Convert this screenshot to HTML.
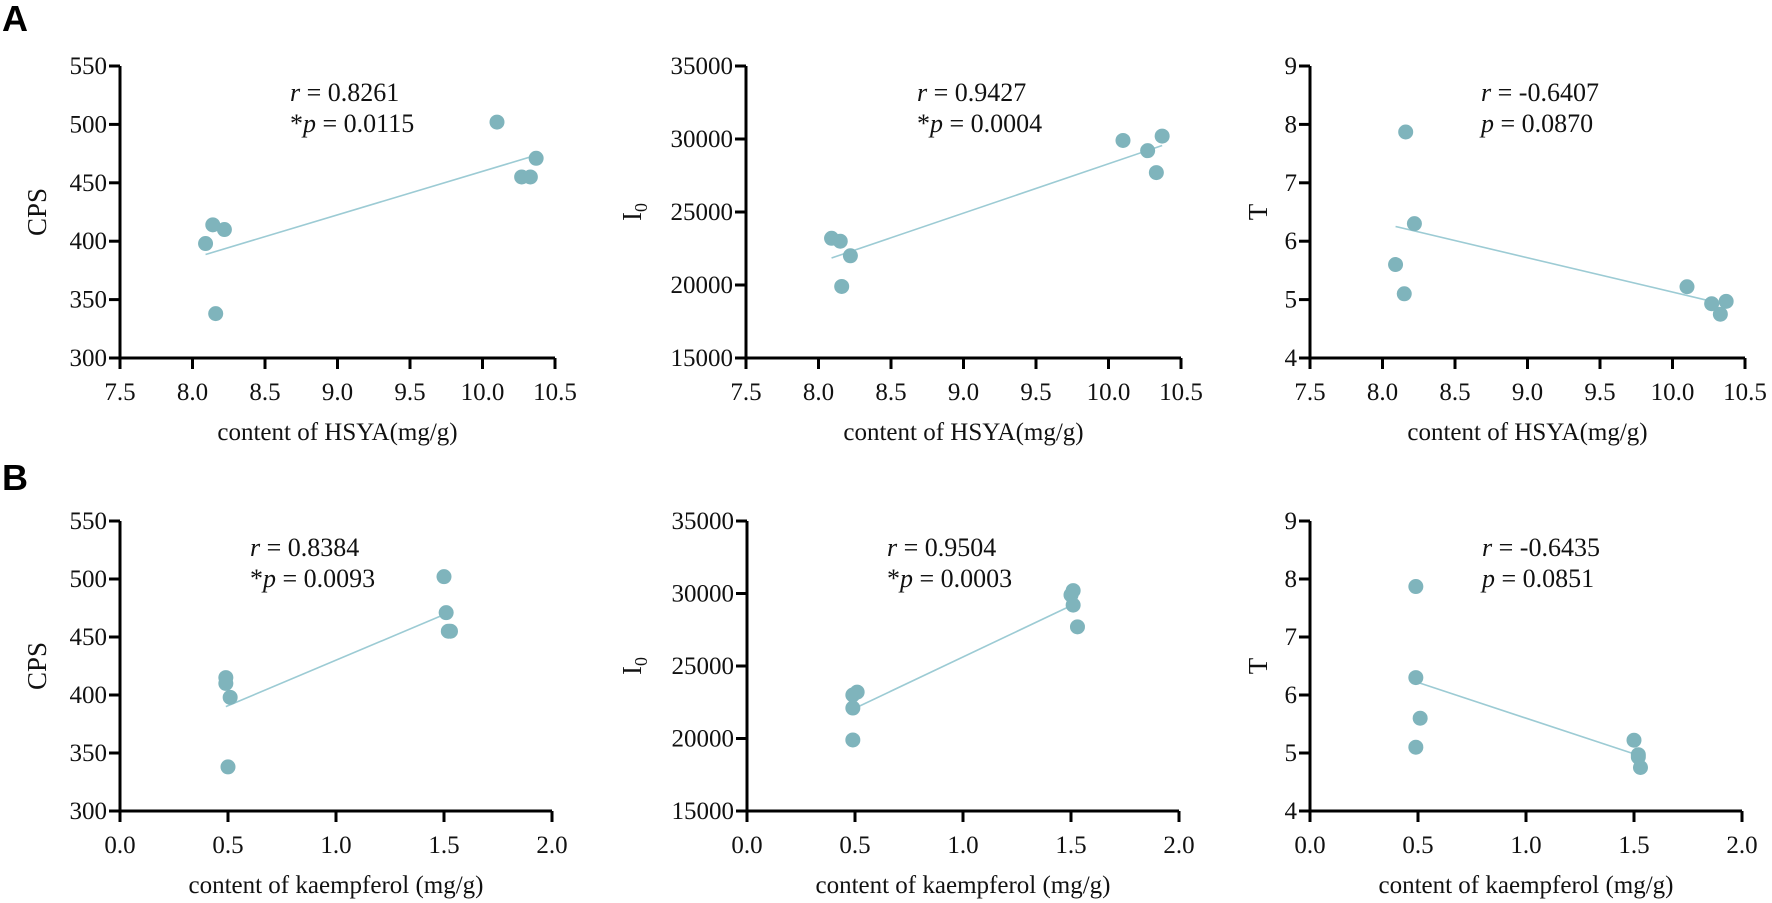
<!DOCTYPE html>
<html><head><meta charset="utf-8">
<style>
html,body{margin:0;padding:0;background:#fff;}
svg{display:block;}
svg text{font-family:"Liberation Serif","DejaVu Serif",serif;}
svg text.sans{font-family:"Liberation Sans","DejaVu Sans",sans-serif;}
</style></head>
<body>
<svg id="fig" width="1772" height="903" viewBox="0 0 1772 903" xmlns="http://www.w3.org/2000/svg">
<text class="sans" x="2" y="31" font-weight="bold" font-size="36">A</text>
<text class="sans" x="2" y="490" font-weight="bold" font-size="36">B</text>
</svg>
<script>
// ---- data ----
const hsyaX = [8.09, 8.14, 8.16, 8.22, 10.10, 10.27, 10.33, 10.37];
const hsyaCPS = [398, 414, 338, 410, 502, 455, 455, 471];
const hsyaI0X = [8.09, 8.15, 8.22, 8.16, 10.10, 10.27, 10.33, 10.37];
const hsyaI0 = [23200, 23000, 22000, 19900, 29900, 29200, 27700, 30200];
const hsyaTX = [8.09, 8.16, 8.22, 8.15, 10.10, 10.27, 10.33, 10.37];
const hsyaT = [5.6, 7.87, 6.3, 5.1, 5.22, 4.93, 4.75, 4.97];
const kaeCPSX = [0.49, 0.49, 0.51, 0.50, 1.50, 1.51, 1.52, 1.53];
const kaeCPS = [415, 410, 398, 338, 502, 471, 455, 455];
const kaeI0X = [0.49, 0.51, 0.49, 0.49, 1.50, 1.51, 1.51, 1.53];
const kaeI0 = [23000, 23200, 22100, 19900, 29900, 30200, 29200, 27700];
const kaeTX = [0.49, 0.49, 0.51, 0.49, 1.50, 1.52, 1.52, 1.53];
const kaeT = [7.87, 6.3, 5.6, 5.1, 5.22, 4.97, 4.93, 4.75];
const hsyaTicks = ["7.5","8.0","8.5","9.0","9.5","10.0","10.5"];
const kaeTicks = ["0.0","0.5","1.0","1.5","2.0"];
const cpsTicks = ["300","350","400","450","500","550"];
const i0Ticks = ["15000","20000","25000","30000","35000"];
const tTicks = ["4","5","6","7","8","9"];
const stats = [["0.8261","*","0.0115"],["0.9427","*","0.0004"],["-0.6407","","0.0870"],
               ["0.8384","*","0.0093"],["0.9504","*","0.0003"],["-0.6435","","0.0851"]];

const NS="http://www.w3.org/2000/svg";
const svg=document.getElementById('fig');
const FONT='"Liberation Serif","DejaVu Serif",serif';
function el(tag,attrs,parent){const e=document.createElementNS(NS,tag);for(const k in attrs)e.setAttribute(k,attrs[k]);if(tag==='text')e.setAttribute('font-family',FONT);(parent||svg).appendChild(e);return e;}
function ts(parent,txt,attrs){const t=document.createElementNS(NS,'tspan');for(const k in (attrs||{}))t.setAttribute(k,attrs[k]);t.textContent=txt;parent.appendChild(t);return t;}

const panels=[
 {x0:120,x1:555,y0:66,y1:358,xt:hsyaTicks,yt:cpsTicks,xs:hsyaX,ys:hsyaCPS,yl:"CPS",xl:"content of HSYA(mg/g)",ylx:37,ann:170,st:stats[0]},
 {x0:746,x1:1181,y0:66,y1:358,xt:hsyaTicks,yt:i0Ticks,xs:hsyaI0X,ys:hsyaI0,yl:"I0",xl:"content of HSYA(mg/g)",ylx:632,ann:171,st:stats[1]},
 {x0:1310,x1:1745,y0:66,y1:358,xt:hsyaTicks,yt:tTicks,xs:hsyaTX,ys:hsyaT,yl:"T",xl:"content of HSYA(mg/g)",ylx:1258,ann:171,st:stats[2]},
 {x0:120,x1:552,y0:521,y1:811,xt:kaeTicks,yt:cpsTicks,xs:kaeCPSX,ys:kaeCPS,yl:"CPS",xl:"content of kaempferol (mg/g)",ylx:37,ann:130,st:stats[3]},
 {x0:747,x1:1179,y0:521,y1:811,xt:kaeTicks,yt:i0Ticks,xs:kaeI0X,ys:kaeI0,yl:"I0",xl:"content of kaempferol (mg/g)",ylx:632,ann:140,st:stats[4]},
 {x0:1310,x1:1742,y0:521,y1:811,xt:kaeTicks,yt:tTicks,xs:kaeTX,ys:kaeT,yl:"T",xl:"content of kaempferol (mg/g)",ylx:1258,ann:172,st:stats[5]}
];

panels.forEach((p,i)=>{
  const g=el('g',{});
  
  
  const xmin=+p.xt[0], xmax=+p.xt[p.xt.length-1];
  const ymin=+p.yt[0], ymax=+p.yt[p.yt.length-1];
  const sx=v=>p.x0+(v-xmin)/(xmax-xmin)*(p.x1-p.x0);
  const sy=v=>p.y1-(v-ymin)/(ymax-ymin)*(p.y1-p.y0);
  const ya=el('line',{x1:p.x0,y1:p.y0,x2:p.x0,y2:p.y1+1.5,stroke:'#000','stroke-width':3},g);
  
  
  const xa=el('line',{x1:p.x0-1.5,y1:p.y1,x2:p.x1,y2:p.y1,stroke:'#000','stroke-width':3},g);
  
  
  p.xt.forEach(t=>{
    const x=sx(+t);
    el('line',{x1:x,y1:p.y1,x2:x,y2:p.y1+11,stroke:'#000','stroke-width':3},g);
    const tx=el('text',{x:x,y:p.y1+42,'font-size':25,'text-anchor':'middle',fill:'#111'},g);
    tx.textContent=t;
    
    
  });
  p.yt.forEach(t=>{
    const y=sy(+t);
    el('line',{x1:p.x0-11,y1:y,x2:p.x0,y2:y,stroke:'#000','stroke-width':3},g);
    const tx=el('text',{x:p.x0-13,y:y+8,'font-size':25,'text-anchor':'end',fill:'#111'},g);
    tx.textContent=t;
    
    
  });
  const n=p.xs.length;let mx=0,my=0;for(let k=0;k<n;k++){mx+=p.xs[k];my+=p.ys[k];}mx/=n;my/=n;
  let sxy=0,sxx=0;for(let k=0;k<n;k++){sxy+=(p.xs[k]-mx)*(p.ys[k]-my);sxx+=(p.xs[k]-mx)**2;}
  const b=sxy/sxx,a=my-b*mx;const lo=Math.min(...p.xs),hi=Math.max(...p.xs);
  const rl=el('line',{x1:sx(lo),y1:sy(a+b*lo),x2:sx(hi),y2:sy(a+b*hi),stroke:'#9ccbd4','stroke-width':1.6},g);
  
  
  for(let k=0;k<n;k++){
    const c=el('circle',{cx:sx(p.xs[k]),cy:sy(p.ys[k]),r:7.5,fill:'#7fb4bc'},g);
    
    
  }
  const yl=el('text',{'font-size':27,'text-anchor':'middle',fill:'#111',transform:`translate(${p.ylx+9},${(p.y0+p.y1)/2}) rotate(-90)`},g);
  if(p.yl==="I0"){ts(yl,'I');ts(yl,'0',{'font-size':18,dy:6});}else{yl.textContent=p.yl;}
  
  
  const xl=el('text',{x:(p.x0+p.x1)/2,y:p.y1+82,'font-size':25,'text-anchor':'middle',fill:'#111'},g);
  xl.textContent=p.xl;
  
  
  const ax=p.x0+p.ann;
  const r=el('text',{x:ax,y:p.y0+35,'font-size':26,fill:'#111'},g);
  ts(r,'r',{'font-style':'italic'});ts(r,' = '+p.st[0]);
  
  
  const pv=el('text',{x:ax,y:p.y0+66,'font-size':26,fill:'#111'},g);
  if(p.st[1])ts(pv,p.st[1]);ts(pv,'p',{'font-style':'italic'});ts(pv,' = '+p.st[2]);
  
  
});
</script>
</body></html>
